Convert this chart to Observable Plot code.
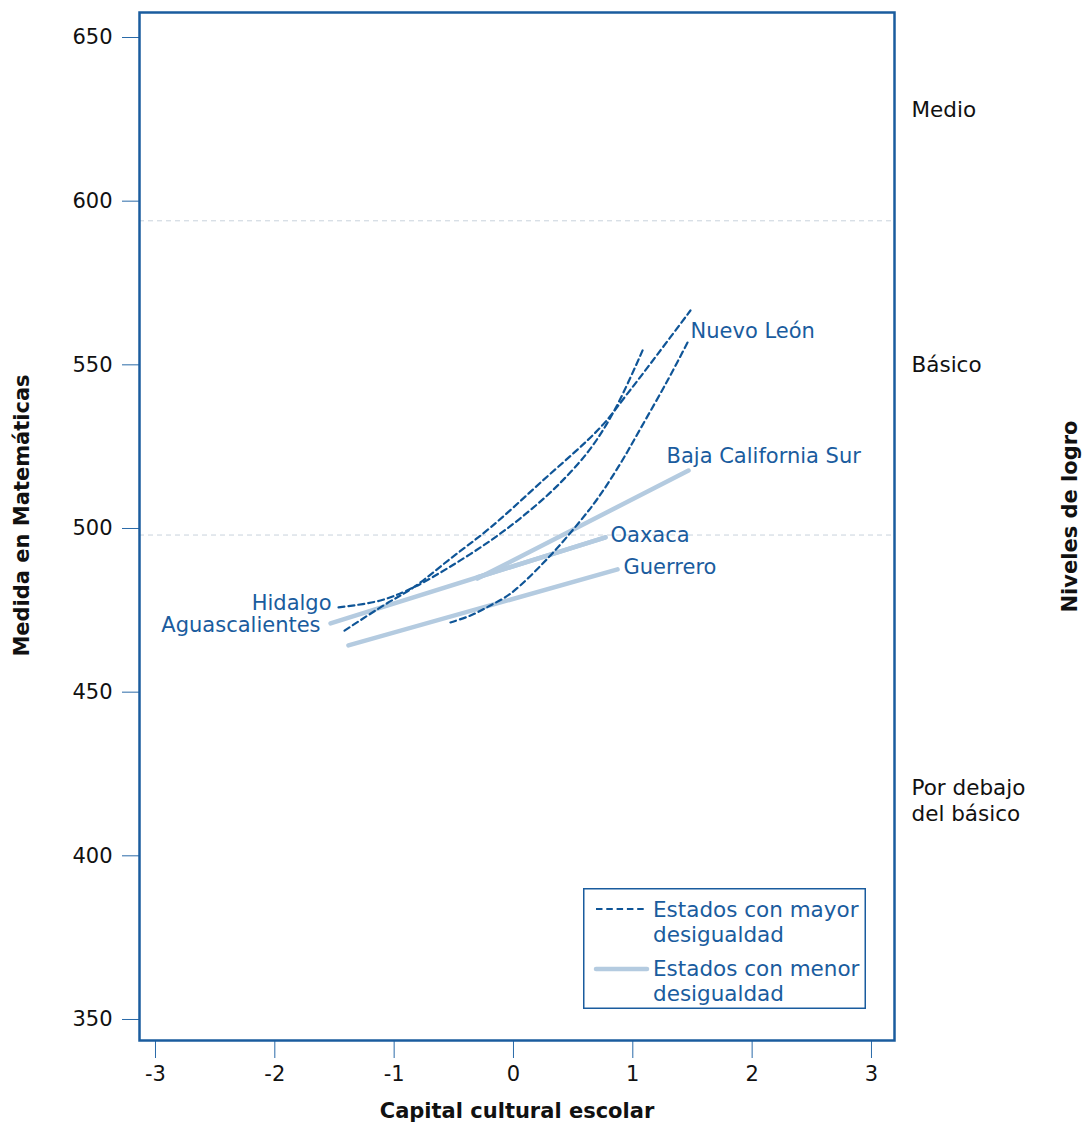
<!DOCTYPE html>
<html>
<head>
<meta charset="utf-8">
<script src="https://cdn.jsdelivr.net/npm/d3@7"></script>
<script src="https://cdn.jsdelivr.net/npm/@observablehq/plot@0.6"></script>
<style>
  body { margin: 0; background: #fff; }
  #wrap { position: relative; width: 1083px; height: 1123px; font-family: "DejaVu Sans", Verdana, sans-serif; }
  #wrap svg { display: block; }
  #legend { position: absolute; left: 583px; top: 888px; }
</style>
</head>
<body>
<div id="wrap"></div>
<script>
// ---------- data ----------
const xTicks = [-3, -2, -1, 0, 1, 2, 3];
const yTicks = [350, 400, 450, 500, 550, 600, 650];
const levelCuts = [498, 594];
const levelNames = ["Medio", "Básico", "Por debajo\ndel básico"];
const levelY = [628.3, 550.4, 417.1];

// Estados con mayor desigualdad (dashed)
const hidalgoX = [-1.466, -1.115, -0.838, -0.528, -0.193, 0.084, 0.369, 0.645, 0.855, 1.089];
const hidalgoY = [475.9, 478.0, 482.0, 488.4, 496.3, 503.9, 513.1, 524.4, 536.7, 555.0];
const nuevoLeonX = [-0.528, -0.360, -0.193, -0.025, 0.285, 0.562, 0.712, 0.897, 1.064, 1.291, 1.467];
const nuevoLeonY = [471.3, 473.4, 476.5, 480.1, 490.8, 502.4, 509.5, 519.9, 530.5, 545.2, 557.4];
const tercerX = [-1.416, -1.089, -0.838, -0.528, -0.193, 0.226, 0.729, 0.955, 1.207, 1.483];
const tercerY = [468.8, 476.5, 482.0, 490.8, 500.3, 514.0, 530.9, 541.2, 553.2, 566.6];

// Estados con menor desigualdad (solid)
const aguasX = [-1.533, 0.771];
const aguasY = [471.0, 497.3];
const oaxacaX = [-0.30, 0.771];
const oaxacaY = [485.1, 497.3];
const guerreroX = [-1.383, 0.872];
const guerreroY = [464.3, 487.5];
const bajaX = [-0.302, 1.467];
const bajaY = [484.7, 517.7];

// ---------- build tables ----------
const dark = "#0f5597";
const light = "#b4cbe0";
const textBlue = "#1a5c9e";
const font = "'DejaVu Sans', Verdana, sans-serif";

function rows(state, xs, ys) { return xs.map((x, i) => ({ state, x, y: ys[i] })); }
const dashRows = [
  ...rows("Hidalgo", hidalgoX, hidalgoY),
  ...rows("Nuevo León", nuevoLeonX, nuevoLeonY),
  ...rows("Otro", tercerX, tercerY)
];
const solidRows = [
  ...rows("Aguascalientes", aguasX, aguasY),
  ...rows("Oaxaca", oaxacaX, oaxacaY),
  ...rows("Guerrero", guerreroX, guerreroY),
  ...rows("Baja California Sur", bajaX, bajaY)
];
const first = (xs, ys) => ({ x: xs[0], y: ys[0] });
const last = (xs, ys) => ({ x: xs[xs.length - 1], y: ys[ys.length - 1] });
const labels = [
  { text: "Hidalgo", ...first(hidalgoX, hidalgoY), anchor: "end", dx: -7, dy: -4 },
  { text: "Aguascalientes", ...first(aguasX, aguasY), anchor: "end", dx: -10, dy: 2 },
  { text: "Nuevo León", ...last(nuevoLeonX, nuevoLeonY), anchor: "start", dx: 2, dy: -9 },
  { text: "Baja California Sur", ...last(bajaX, bajaY), anchor: "start", dx: -22, dy: -14 },
  { text: "Oaxaca", ...last(oaxacaX, oaxacaY), anchor: "start", dx: 5, dy: -2 },
  { text: "Guerrero", ...last(guerreroX, guerreroY), anchor: "start", dx: 6, dy: -2 }
];
const levels = levelNames.map((label, i) => ({ label, y: levelY[i] }));

const chart = Plot.plot({
  width: 1083,
  height: 1123,
  marginLeft: 139,
  marginRight: 189,
  marginTop: 12,
  marginBottom: 83,
  x: { domain: [-3.134, 3.193] },
  y: { domain: [343.58, 657.64] },
  style: { fontFamily: font, fontSize: "21px", color: "#111", background: "white" },
  marks: [
    Plot.ruleY(levelCuts, { stroke: "#c8d2dc", strokeDasharray: "5,4", strokeWidth: 1 }),
    Plot.line(solidRows, { x: "x", y: "y", z: "state", stroke: light, strokeWidth: 4.5, strokeLinecap: "round" }),
    Plot.line(dashRows, { x: "x", y: "y", z: "state", stroke: dark, strokeWidth: 2.2, strokeDasharray: "6,4", curve: "catmull-rom" }),
    ...labels.map(d => Plot.text([d], { x: "x", y: "y", text: "text", textAnchor: d.anchor, dx: d.dx, dy: d.dy, fill: textBlue, fontSize: 21 })),
    Plot.text(levels, { y: "y", text: "label", frameAnchor: "right", dx: 17, textAnchor: "start", lineAnchor: "middle", lineHeight: 1.19, fontSize: 21.5, fill: "#111" }),
    Plot.axisY({ ticks: yTicks, tickSize: 17, tickPadding: 10, stroke: "#2a6aa8", fill: "#111", label: null, fontSize: 21 }),
    Plot.axisX({ ticks: xTicks, tickSize: 18, tickPadding: 8, stroke: "#2a6aa8", fill: "#111", label: null, fontSize: 21, tickFormat: d => String(d) }),
    Plot.frame({ stroke: "#1a5c9e", strokeWidth: 2.5 }),
    Plot.text(["Medida en Matemáticas"], { frameAnchor: "left", rotate: -90, dx: -117, dy: -11, textAnchor: "middle", lineAnchor: "middle", fontWeight: "bold", fontSize: 21, fill: "#111" }),
    Plot.text(["Niveles de logro"], { frameAnchor: "right", rotate: -90, dx: 176, dy: -10, textAnchor: "middle", lineAnchor: "middle", fontWeight: "bold", fontSize: 21, fill: "#111" }),
    Plot.text(["Capital cultural escolar"], { frameAnchor: "bottom", dy: 71, textAnchor: "middle", lineAnchor: "middle", fontWeight: "bold", fontSize: 21, fill: "#111" })
  ]
});

const wrap = document.getElementById("wrap");
wrap.appendChild(chart);

// legend
const legendNames = ["Estados con mayor\ndesigualdad", "Estados con menor\ndesigualdad"];
const legend = d3.select(wrap).append("svg").attr("id", "legend").attr("width", 283).attr("height", 121);
legend.append("rect").attr("x", 0.75).attr("y", 0.75).attr("width", 281.5).attr("height", 119.5)
  .attr("fill", "white").attr("stroke", "#1a5c9e").attr("stroke-width", 1.5);
legend.append("line").attr("x1", 13).attr("x2", 64).attr("y1", 21).attr("y2", 21)
  .attr("stroke", dark).attr("stroke-width", 2.2).attr("stroke-dasharray", "6.5,3.8");
legend.append("line").attr("x1", 13).attr("x2", 64).attr("y1", 81).attr("y2", 81)
  .attr("stroke", light).attr("stroke-width", 4.5).attr("stroke-linecap", "round");
legendNames.forEach((name, i) => {
  const t = legend.append("text").attr("font-family", font).attr("font-size", 21.5).attr("fill", textBlue);
  name.split("\n").forEach((line, j) => {
    t.append("tspan").attr("x", 70).attr("y", 21 + i * 59 + j * 25.5).attr("dy", "0.35em").text(line);
  });
});
</script>
</body>
</html>
